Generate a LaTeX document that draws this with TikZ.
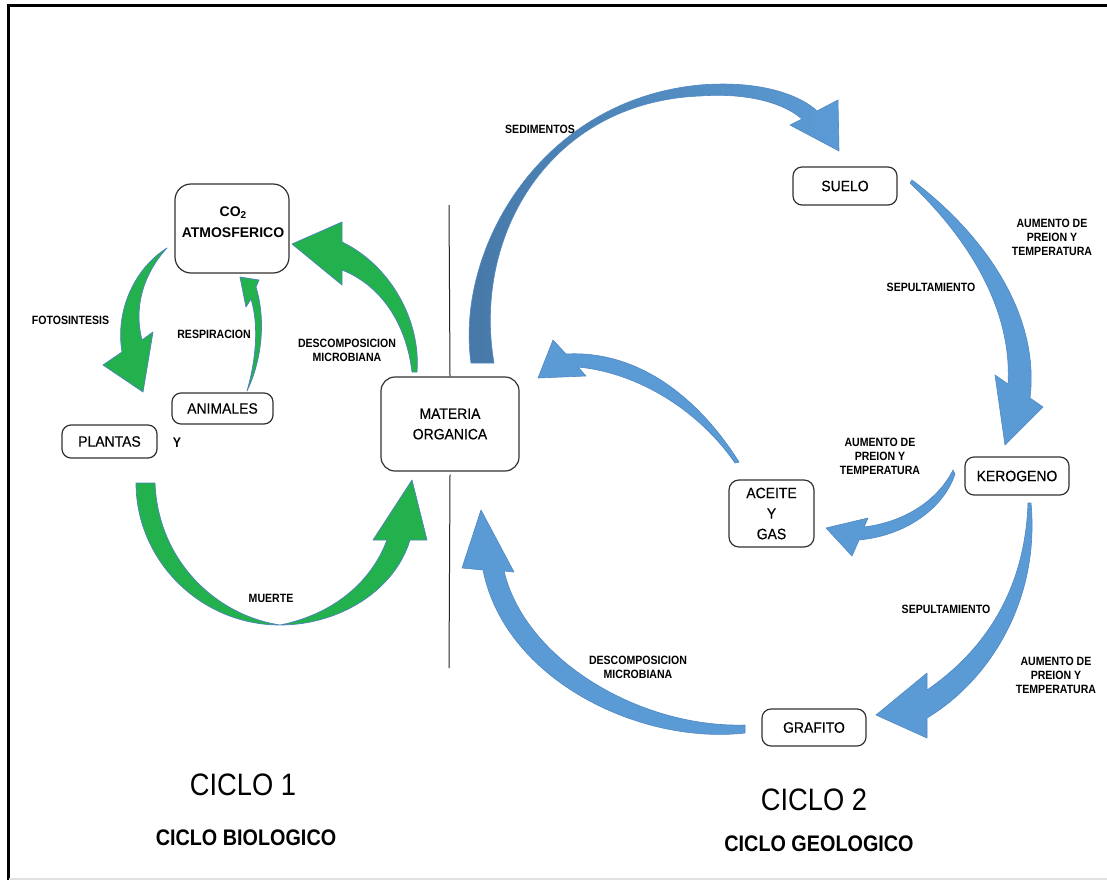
\documentclass[tikz,border=0pt]{standalone}
\usepackage{fontspec}
\setmainfont{Liberation Sans}[FakeStretch=0.88]
\newfontfamily\boxfont{Liberation Sans}[FakeStretch=0.93, FakeBold=0.4]
\newfontfamily\plainfont{Liberation Sans}
\definecolor{grn}{RGB}{34,177,76}
\definecolor{gedge}{RGB}{79,129,189}
\definecolor{bl}{RGB}{91,155,213}
\definecolor{bld}{RGB}{70,120,166}
\definecolor{bedge}{RGB}{80,135,195}
\definecolor{boxc}{RGB}{50,50,50}
\begin{document}
\begin{tikzpicture}[x=1pt,y=-1pt,
  box/.style={draw=boxc, line width=1.2pt, rounded corners=9pt, fill=white, inner sep=0pt,
    font=\boxfont\fontsize{15}{20.5}\selectfont, align=center},
  lbl/.style={font=\fontsize{12}{14}\selectfont\bfseries, align=center, inner sep=0pt},
  title/.style={font=\fontsize{31}{31}\selectfont, inner sep=0pt},
  subtitle/.style={font=\fontsize{22.5}{23}\selectfont\bfseries, inner sep=0pt},
  garrow/.style={fill=grn, draw=gedge, line width=0.7pt, line join=round},
  barrow/.style={fill=bl, draw=bedge, line width=0.6pt, line join=round},
]
\useasboundingbox (0,0) rectangle (1107,880);
\fill[white] (0,0) rectangle (1107,880);

% frame
\draw[line width=3pt] (1107,5.5) -- (8.5,5.5) -- (8.5,880);
\draw[black!12, line width=1.5pt] (8.5,879) -- (1107,879);

% ---------- boxes ----------
\node[box, minimum width=114pt, minimum height=89pt, rounded corners=16pt] (co2) at (232,228.5) {};
\node[font=\plainfont\fontsize{14}{21}\selectfont\bfseries, align=center, inner sep=0pt] (co2t) at (233,222)
  {CO\raisebox{-2.5pt}{\fontsize{10}{10}\selectfont 2}\\ATMOSFERICO};
\node[box, minimum width=95pt, minimum height=33pt] (plantas) at (109.5,441.5) {PLANTAS};
\node[font=\fontsize{14}{14}\selectfont\bfseries, inner sep=0pt] (yy) at (177,443) {Y};
\node[box, minimum width=101pt, minimum height=31pt] (animales) at (222.5,408.5) {ANIMALES};
\node[box, minimum width=138pt, minimum height=94pt, rounded corners=14pt] (materia) at (450,424) {MATERIA\\ORGANICA};
\node[box, minimum width=104pt, minimum height=38pt] (suelo) at (845,186) {SUELO};
\node[box, minimum width=104pt, minimum height=38pt] (kerogeno) at (1017,476) {KEROGENO};
\node[box, minimum width=85pt, minimum height=67pt, rounded corners=10pt] (aceite) at (771.5,513.5) {ACEITE\\Y\\GAS};
\node[box, minimum width=104pt, minimum height=37pt] (grafito) at (814,727.5) {GRAFITO};

% separator
\coordinate (vtop) at (449,205);
\coordinate (vbot) at (449,668);
\draw[line width=1pt, black!85] (vtop) -- (materia.north);
\draw[line width=1pt, black!85] ([yshift=-3pt]materia.south) -- (vbot);

% ---------- green arrows (biological cycle) ----------
% fotosintesis: CO2 -> plantas
\path[garrow] (167,248) .. controls (135,268) and (115,310) .. (122,352)
  -- (103,365) -- (143,392) -- (153,332) -- (142,340)
  .. controls (133,305) and (145,272) .. (167,248) -- cycle;
% respiracion: animales -> CO2
\path[garrow] (247,391) .. controls (262,360) and (266,320) .. (256,287)
  -- (259,280) -- (240,277) -- (246,307) -- (251,299)
  .. controls (259,325) and (256,360) .. (247,391) -- cycle;
% descomposicion microbiana: materia -> CO2
\path[garrow] (417,372) .. controls (421,320) and (390,265) .. (342,242)
  -- (342,222) -- (292,244) -- (342,285) -- (342,270)
  .. controls (380,285) and (406,322) .. (412,372) -- cycle;
% muerte: plantas -> materia
\path[garrow] (136,483) .. controls (136,560) and (200,625) .. (280,625)
  .. controls (340,625) and (395,590) .. (410,540)
  -- (427,540) -- (412,480) -- (373,540) -- (387,540)
  .. controls (370,585) and (330,615) .. (280,625)
  .. controls (215,615) and (158,560) .. (155,483) -- cycle;

% ---------- blue arrows (geological cycle) ----------
% sedimentos: materia -> suelo
\path[draw=bedge, line width=0.6pt, line join=round, left color=bld, middle color=bl, right color=bl]
  (471,363) .. controls (455,250) and (540,100) .. (700,85)
  .. controls (760,80) and (800,95) .. (817,111)
  -- (838,100) -- (839,151) -- (790,125) -- (802,119)
  .. controls (780,100) and (740,93) .. (700,96)
  .. controls (550,102) and (472,235) .. (494,363) -- cycle;
% suelo -> kerogeno
\path[barrow] (912,180) .. controls (985,235) and (1040,315) .. (1030,398)
  -- (1043,407) -- (1005,445) -- (995,375) -- (1008,384)
  .. controls (1012,315) and (975,245) .. (910,183) -- cycle;
% aceite y gas -> materia
\path[barrow] (739,462) .. controls (700,400) and (640,350) .. (566,354)
  -- (553,340) -- (538,378) -- (586,376) -- (578,367)
  .. controls (640,373) and (700,412) .. (735,463) -- cycle;
% kerogeno -> aceite y gas
\path[barrow] (953,470) .. controls (938,500) and (905,522) .. (864,527)
  -- (868,518) -- (826,528) -- (852,556) -- (859,540)
  .. controls (910,535) and (945,505) .. (955,474) -- cycle;
% kerogeno -> grafito
\path[barrow] (1031,503) .. controls (1040,600) and (990,680) .. (927,718)
  -- (927,738) -- (876,715) -- (927,673) -- (927,690)
  .. controls (985,650) and (1025,590) .. (1028,503) -- cycle;
% grafito -> materia
\path[barrow] (745,733) .. controls (640,745) and (505,680) .. (483,570)
  -- (462,568) -- (481,510) -- (514,572) -- (504,571)
  .. controls (525,660) and (640,728) .. (745,725) -- cycle;

% ---------- labels ----------
\node[lbl] (lfoto) at (70.5,320) {FOTOSINTESIS};
\node[lbl] (lresp) at (214,334) {RESPIRACION};
\node[lbl] (ldesc1) at (347,350) {DESCOMPOSICION\\MICROBIANA};
\node[lbl] (lmuerte) at (271,598) {MUERTE};
\node[lbl] (lsed) at (540,129) {SEDIMENTOS};
\node[lbl] (laum1) at (1052,237) {AUMENTO DE\\PREION Y\\TEMPERATURA};
\node[lbl] (lsep1) at (931,287) {SEPULTAMIENTO};
\node[lbl] (laum2) at (880,456) {AUMENTO DE\\PREION Y\\TEMPERATURA};
\node[lbl] (lsep2) at (946,609) {SEPULTAMIENTO};
\node[lbl] (laum3) at (1056,675) {AUMENTO DE\\PREION Y\\TEMPERATURA};
\node[lbl] (ldesc2) at (638,667) {DESCOMPOSICION\\MICROBIANA};

% ---------- titles ----------
\node[title] (c1) at (243,785) {CICLO 1};
\node[subtitle] (c1s) at (246,838) {CICLO BIOLOGICO};
\node[title] (c2) at (814,800) {CICLO 2};
\node[subtitle] (c2s) at (819,844) {CICLO GEOLOGICO};
\end{tikzpicture}
\end{document}
